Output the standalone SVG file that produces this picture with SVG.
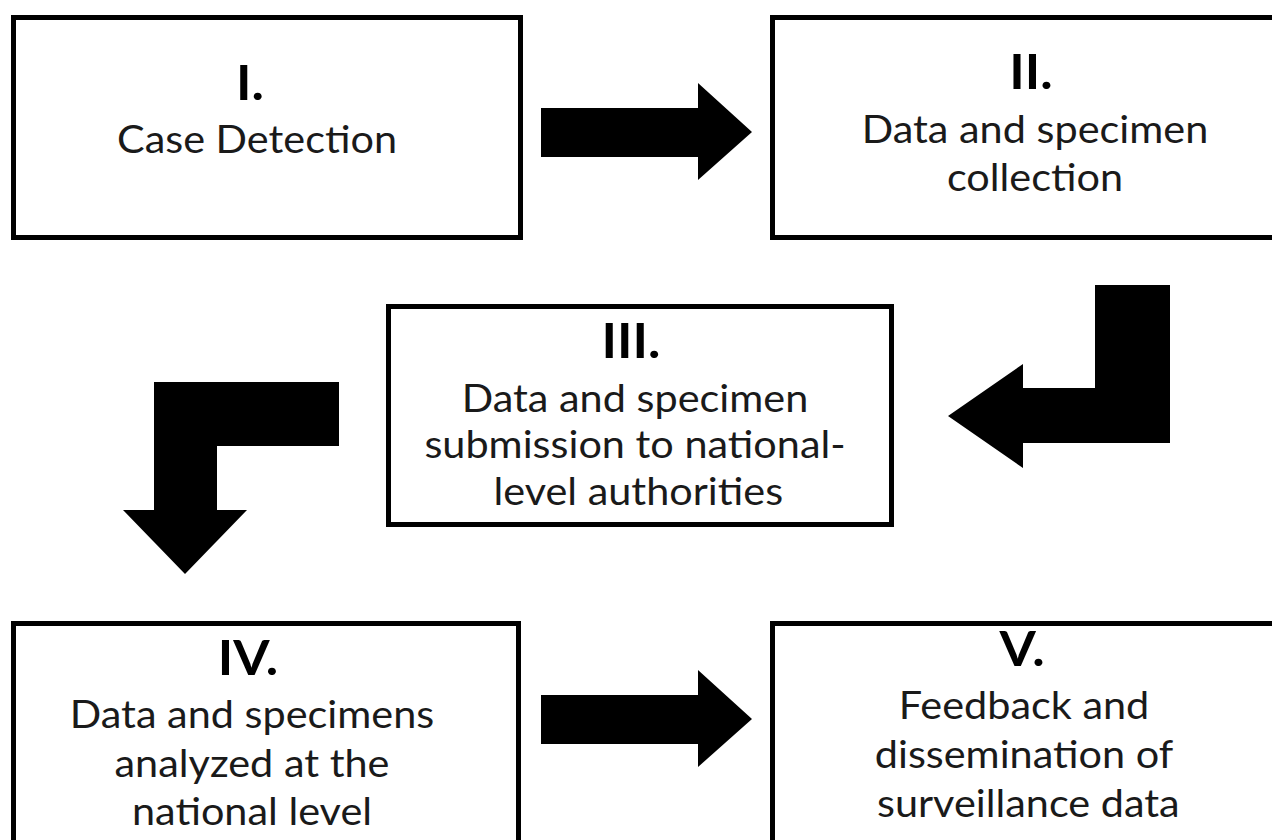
<svg xmlns="http://www.w3.org/2000/svg" width="1272" height="840" viewBox="0 0 1272 840">
<style>
.box{fill:#fff;stroke:#000;stroke-width:5}
.arrow{fill:#000;stroke:none}
.h{font-family:Lato,"Open Sans","Liberation Sans",sans-serif;font-weight:bold;font-size:48px;fill:#000;text-anchor:middle}
.t{font-family:Lato,"Open Sans","Liberation Sans",sans-serif;font-size:38px;fill:#1a1a1a;text-anchor:middle}
</style>
<rect width="1272" height="840" fill="#fff"/>
<g id="connectors">
<polygon class="arrow" points="541,108 698,108 698,83 752,132 698,180 698,157 541,157"/>
<polygon class="arrow" points="1095,285 1170,285 1170,443 1023,443 1023,468 948,416 1023,364 1023,388 1095,388"/>
<polygon class="arrow" points="339,382 339,446 217,446 217,510 247,510 185,574 123,510 154,510 154,382"/>
<polygon class="arrow" points="541,695 698,695 698,670 752,719 698,767 698,744 541,744"/>
</g>
<g id="node1">
<rect class="box" x="13.5" y="17.5" width="507" height="220"/>
<g transform="translate(250,0) scale(1.09,1)"><text class="h" x="0" y="100">I.</text></g>
<g transform="translate(257,0) scale(1.09,1)"><text class="t" x="0" y="153">Case Detection</text></g>
</g>
<g id="node2">
<rect class="box" x="772.5" y="17.5" width="520" height="220"/>
<g transform="translate(1031,0) scale(1.09,1)"><text class="h" x="0" y="89">II.</text></g>
<g transform="translate(1035,0) scale(1.09,1)">
<text class="t" x="0" y="143">Data and specimen</text>
<text class="t" x="0" y="191">collection</text>
</g>
</g>
<g id="node3">
<rect class="box" x="388.5" y="306.5" width="503" height="218"/>
<g transform="translate(631,0) scale(1.09,1)"><text class="h" x="0" y="358">III.</text></g>
<g transform="translate(635,0) scale(1.09,1)">
<text class="t" x="0" y="412">Data and specimen</text>
<text class="t" x="0" y="458">submission to national-</text>
<text class="t" x="3" y="505">level authorities</text>
</g>
</g>
<g id="node4">
<rect class="box" x="13.5" y="623.5" width="505" height="240"/>
<g transform="translate(248,0) scale(1.09,1)"><text class="h" x="0" y="675">IV.</text></g>
<g transform="translate(252,0) scale(1.09,1)">
<text class="t" x="0" y="728">Data and specimens</text>
<text class="t" x="0" y="777">analyzed at the</text>
<text class="t" x="0" y="825">national level</text>
</g>
</g>
<g id="node5">
<rect class="box" x="772.5" y="623.5" width="520" height="240"/>
<g transform="translate(1022,0) scale(1.09,1)"><text class="h" x="0" y="666">V.</text></g>
<g transform="translate(1024,0) scale(1.09,1)">
<text class="t" x="0" y="719">Feedback and</text>
<text class="t" x="0" y="768">dissemination of</text>
<text class="t" x="4" y="817">surveillance data</text>
</g>
</g>
</svg>
